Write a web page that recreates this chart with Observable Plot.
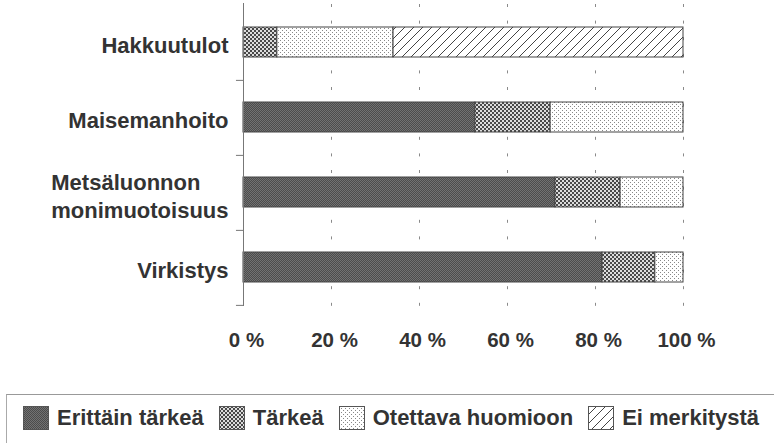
<!DOCTYPE html>
<html><head><meta charset="utf-8">
<script src="https://cdn.jsdelivr.net/npm/d3@7"></script>
<script src="https://cdn.jsdelivr.net/npm/@observablehq/plot@0.6"></script>
<style>
html,body{margin:0;padding:0;background:#fff;overflow:hidden;width:774px;height:443px}
#chart svg{display:block}
#legend{position:absolute;left:6px;top:394px;width:800px;height:60px;border-top:1px solid #999;border-left:1px solid #aaa;box-sizing:border-box;
  font-family:"Liberation Sans",Arial,Helvetica,sans-serif;font-weight:bold;font-size:22px;color:#333;display:flex;align-items:flex-start;
  padding:11px 0 0 16px}
#legend .item{display:flex;align-items:center;margin-right:15px;height:24px}
#legend svg{display:block;margin-right:8px}
</style></head><body><div id="chart"></div><div id="legend"></div>
<script>
const categories = ["Hakkuutulot", "Maisemanhoito", "Metsäluonnon\nmonimuotoisuus", "Virkistys"];
const series = ["Erittäin tärkeä", "Tärkeä", "Otettava huomioon", "Ei merkitystä"];
const erittainTarkea   = [0,    52.7, 70.9, 81.6];
const tarkea           = [7.7,  17.1, 14.8, 12.0];
const otettavaHuomioon = [26.4, 30.2, 14.3, 6.4];
const eiMerkitysta     = [65.9, 0,    0,    0];
const xTicks = [0, 20, 40, 60, 80, 100];
const gridTicks = [20, 40, 60, 80, 100];

const seriesValues = [erittainTarkea, tarkea, otettavaHuomioon, eiMerkitysta];
const patternIds = ["pat0", "pat1", "pat2", "pat3"];
const table = [];
series.forEach((s, si) => categories.forEach((c, ci) => {
  const v = seriesValues[si][ci];
  if (v > 0) table.push({category: c, series: s, value: v});
}));

const FONT = "'Liberation Sans', Arial, Helvetica, sans-serif";
const step = 75.75;
const singleLabels = categories.filter(c => !c.includes("\n"));
const multiLabels = categories.filter(c => c.includes("\n"));
const ctx = document.createElement("canvas").getContext("2d");
ctx.font = "bold 22px 'Liberation Sans'";
const multiWidth = (c) => Math.max(...c.split("\n").map(l => ctx.measureText(l).width));

const marks = [
  Plot.ruleX(gridTicks, {stroke: "#8a8a8a", strokeDasharray: "3,13.6", strokeDashoffset: -1}),
  Plot.barX(table, Plot.stackX({x: "value", y: "category", fill: "series", stroke: "#444", strokeWidth: 1})),
  Plot.ruleX([0], {stroke: "#777"}),
  Plot.ruleY(categories, {y: d => d, x1: -1.6, x2: 0, dy: step / 2, stroke: "#777"}),
  Plot.text(singleLabels, {y: d => d, text: d => d, frameAnchor: "left", textAnchor: "end", dx: -15, dy: 3,
    fontSize: 22, fontWeight: "bold", fill: "#333"}),
  ...multiLabels.map(c => Plot.text([c], {y: d => d, text: d => d, frameAnchor: "left", textAnchor: "start",
    dx: -15 - multiWidth(c), dy: 3, lineHeight: 1.27, fontSize: 22, fontWeight: "bold", fill: "#333"})),
  Plot.text(xTicks, {x: d => d, text: d => d + " %", frameAnchor: "bottom", dy: 40, dx: 3,
    fontSize: 20.5, fontWeight: "bold", fill: "#333"})
];

const svg = Plot.plot({
  width: 774, height: 392,
  marginLeft: 243, marginRight: 91, marginTop: 3, marginBottom: 86,
  style: {fontFamily: FONT, background: "white", overflow: "visible"},
  x: {domain: [0, 100], axis: null, label: null},
  y: {domain: categories, axis: null, label: null, paddingInner: 0.6, paddingOuter: 0.3},
  color: {domain: series, range: patternIds.map(id => `url(#${id})`)},
  marks
});

function addPatterns(svgNode) {
  const defs = d3.select(svgNode).insert("defs", ":first-child");
  // dark fine mesh
  let p = defs.append("pattern").attr("id", "pat0").attr("width", 2).attr("height", 2).attr("patternUnits", "userSpaceOnUse");
  p.append("rect").attr("width", 2).attr("height", 2).attr("fill", "#4c4c4c");
  p.append("rect").attr("width", 1).attr("height", 1).attr("fill", "#727272");
  p.append("rect").attr("x", 1).attr("y", 1).attr("width", 1).attr("height", 1).attr("fill", "#727272");
  // checker (2px cells)
  p = defs.append("pattern").attr("id", "pat1").attr("width", 4).attr("height", 4).attr("patternUnits", "userSpaceOnUse");
  p.append("rect").attr("width", 4).attr("height", 4).attr("fill", "#dcdcdc");
  p.append("rect").attr("width", 2).attr("height", 2).attr("fill", "#484848");
  p.append("rect").attr("x", 2).attr("y", 2).attr("width", 2).attr("height", 2).attr("fill", "#484848");
  // dots
  p = defs.append("pattern").attr("id", "pat2").attr("width", 4).attr("height", 4).attr("patternUnits", "userSpaceOnUse");
  p.append("rect").attr("width", 4).attr("height", 4).attr("fill", "#fff");
  p.append("rect").attr("width", 1).attr("height", 1).attr("fill", "#888");
  p.append("rect").attr("x", 2).attr("y", 2).attr("width", 1).attr("height", 1).attr("fill", "#888");
  // diagonal hatch
  p = defs.append("pattern").attr("id", "pat3").attr("width", 9).attr("height", 9).attr("patternUnits", "userSpaceOnUse");
  p.append("rect").attr("width", 9).attr("height", 9).attr("fill", "#fff");
  p.append("path").attr("d", "M0,9L9,0M-2,2L2,-2M7,11L11,7").attr("stroke", "#444").attr("stroke-width", 1);
}
addPatterns(svg);
document.getElementById("chart").appendChild(svg);

const legend = d3.select("#legend");
series.forEach((s, i) => {
  const item = legend.append("div").attr("class", "item");
  const sw = item.append("svg").attr("width", 26).attr("height", 24);
  sw.append("rect").attr("x", 0.5).attr("y", 0.5).attr("width", 25).attr("height", 23)
    .attr("fill", `url(#${patternIds[i]})`).attr("stroke", "#555");
  item.append("span").text(s);
});
</script></body></html>
